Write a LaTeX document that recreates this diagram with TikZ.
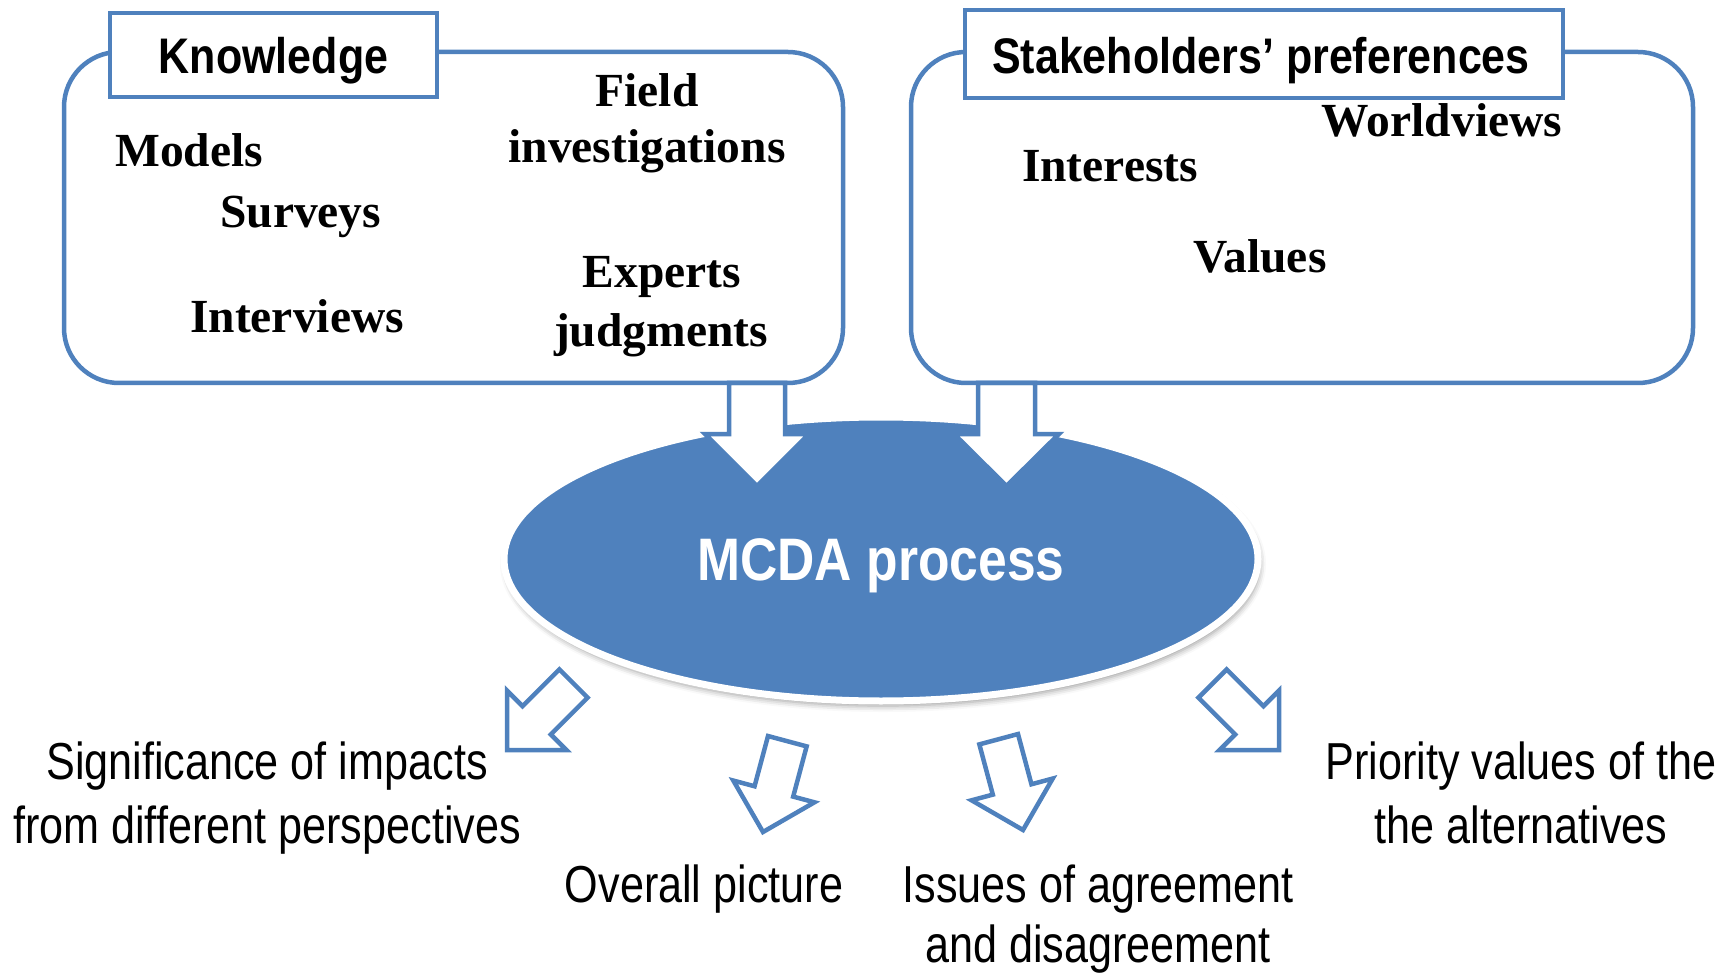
\documentclass[tikz,border=0pt]{standalone}
\usepackage{fontspec}
\setmainfont{Liberation Serif}
\newfontfamily\narrowsans{Liberation Sans}[FakeStretch=0.83]
\newfontfamily\narrowbold{Liberation Sans}[FakeStretch=0.86]
\usetikzlibrary{shapes.geometric,shadows.blur}
\definecolor{mblue}{HTML}{4F81BD}
\begin{document}
\begin{tikzpicture}[x=1pt,y=-1pt,
  bigbox/.style={draw=mblue, line width=4.5pt, rounded corners=55pt, inner sep=0pt},
  titlebox/.style={draw=mblue, line width=4.5pt, fill=white, inner sep=0pt},
  titletext/.style={font=\narrowbold\bfseries\fontsize{50}{54}\selectfont, inner sep=0pt},
  item/.style={font=\bfseries\fontsize{47.5}{50}\selectfont, inner sep=0pt},
  outlbl/.style={font=\narrowsans\fontsize{52}{60}\selectfont, inner sep=0pt, anchor=base},
  bigarrow/.style={draw=mblue, fill=white, line width=4.5pt, line join=miter},
  smallarrow/.style={draw=mblue, fill=white, line width=4.5pt, line join=miter},
  mcdastyle/.style={ellipse, draw=white, line width=7pt, fill=mblue,
    minimum width=754pt, minimum height=284pt, inner sep=0pt,
    text=white, font=\narrowbold\bfseries\fontsize{60}{64}\selectfont,
    text height=43pt, text depth=0pt,
    blur shadow={shadow xshift=2pt, shadow yshift=-5pt, shadow blur radius=6pt, shadow opacity=40}},
  barrow/.pic={
    \draw[smallarrow] (0,0) -- (-42,-42) -- (-20,-42) -- (-20,-94) -- (20,-94) -- (20,-42) -- (42,-42) -- cycle;
  }
]
\useasboundingbox (0,0) rectangle (1732,973);

% MCDA ellipse
\node[mcdastyle] (mcda) at (881,559) {MCDA process};

% big arrows from boxes into the ellipse
\draw[bigarrow] (729,383) -- (729,434) -- (705,434) -- (757,486) -- (809,434) -- (785,434) -- (785,383) -- cycle;
\draw[bigarrow] (978,383) -- (978,434) -- (954,434) -- (1006.5,486) -- (1059,434) -- (1035,434) -- (1035,383) -- cycle;

% big rounded boxes
\node[bigbox, minimum width=779pt, minimum height=331pt] (know) at (453.5,217.5) {};
\node[bigbox, minimum width=782pt, minimum height=331pt] (stake) at (1302,217.5) {};

% title boxes
\node[titlebox, minimum width=327pt, minimum height=84pt] (kbox) at (273.5,55) {};
\node[titletext, anchor=base] (ktitle) at (273.5,74) {Knowledge};
\node[titlebox, minimum width=598pt, minimum height=88pt] (sbox) at (1264,54) {};
\node[titletext, anchor=base] (stitle) at (1261,74) {Stakeholders’ preferences};

% knowledge items
\node[item, anchor=base west] (models) at (115,167) {Models};
\node[item, anchor=base west] (surveys) at (220,228) {Surveys};
\node[item, anchor=base west] (interviews) at (190,333) {Interviews};
\node[item, anchor=base] (field) at (647,107) {Field};
\node[item, anchor=base] (invest) at (647,163) {investigations};
\node[item, anchor=base] (experts) at (662,288) {Experts};
\node[item, anchor=base] (judg) at (661,347) {judgments};

% stakeholder items
\node[item, anchor=base] (world) at (1442,137) {Worldviews};
\node[item, anchor=base] (interests) at (1110,182) {Interests};
\node[item, anchor=base] (values) at (1260,273) {Values};

% small output arrows
\pic[rotate=-45] (a1) at (507,750) {barrow};
\pic[rotate=-15] (a2) at (763,832) {barrow};
\pic[rotate=15] (a3) at (1023,830) {barrow};
\pic[rotate=45] (a4) at (1279,750) {barrow};

% output labels
\node[outlbl] (sig1) at (267,779) {Significance of impacts};
\node[outlbl] (sig2) at (267,843) {from different perspectives};
\node[outlbl] (overall) at (704,902) {Overall picture};
\node[outlbl] (iss1) at (1098,902) {Issues of agreement};
\node[outlbl] (iss2) at (1098,962) {and disagreement};
\node[outlbl] (pri1) at (1521,779) {Priority values of the};
\node[outlbl] (pri2) at (1521,843) {the alternatives};
\end{tikzpicture}
\end{document}
